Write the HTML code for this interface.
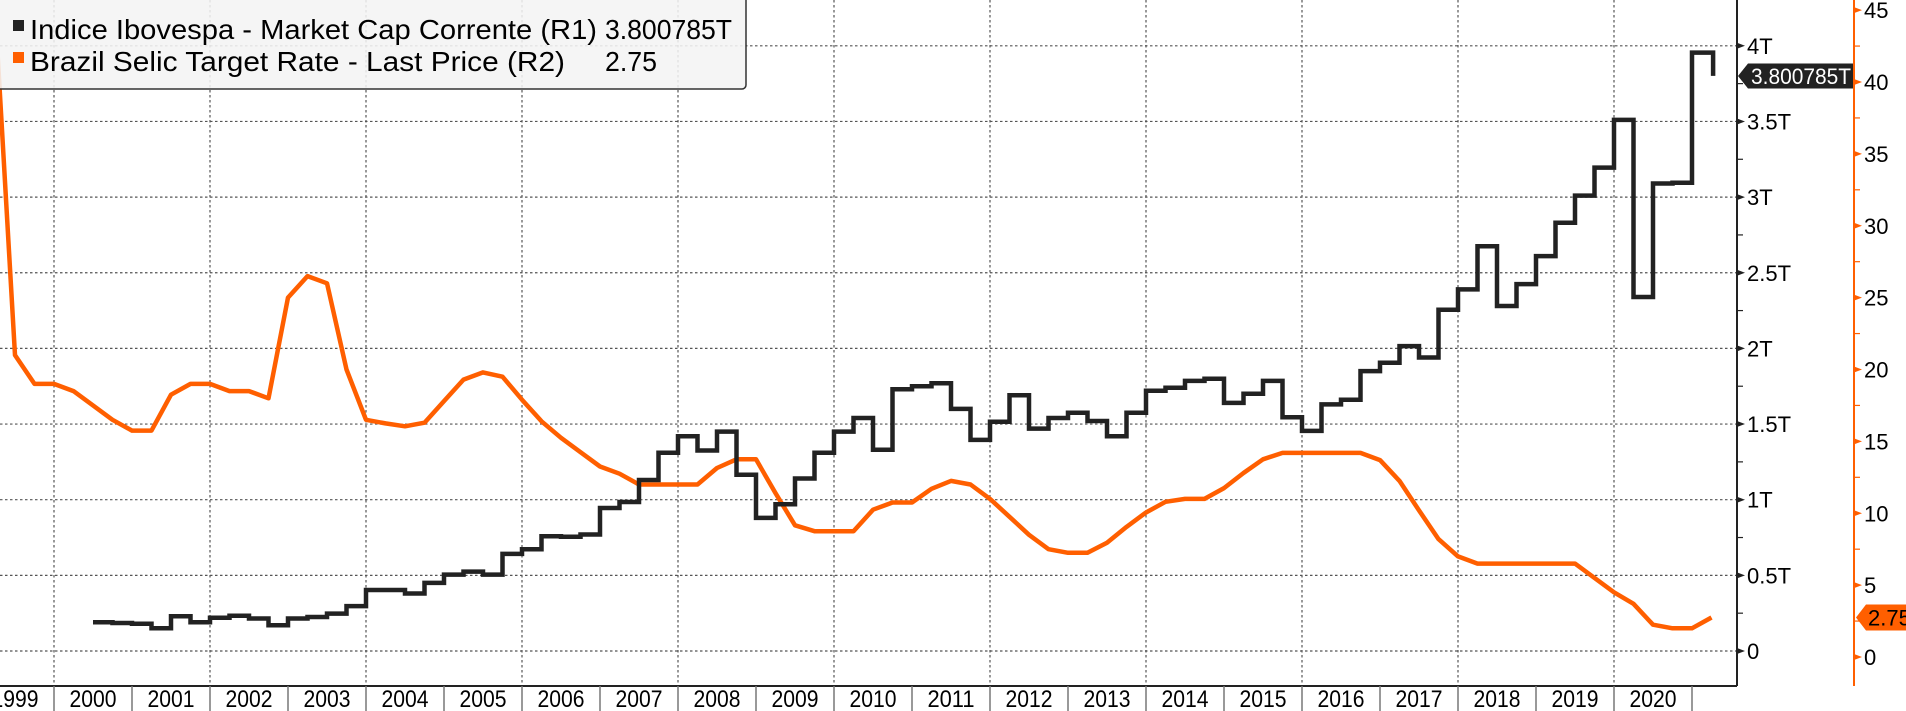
<!DOCTYPE html>
<html><head><meta charset="utf-8"><style>
html,body{margin:0;padding:0;background:#fff;}
svg{display:block;font-family:"Liberation Sans",sans-serif;}
</style></head><body>
<svg id="chart" width="1906" height="711" viewBox="0 0 1906 711" xmlns="http://www.w3.org/2000/svg">
<g id="grid"></g>
<g id="series"></g>
<g id="axes"></g>
<g id="legend">
  <rect x="-4" y="-4" width="750" height="93" rx="4" fill="rgba(244,244,244,0.88)" stroke="#333" stroke-width="1.5"/>
  <rect x="13" y="20" width="11" height="11" fill="#222"/>
  <text x="30" y="39" font-size="28" textLength="567" lengthAdjust="spacingAndGlyphs" fill="#000">Indice Ibovespa - Market Cap Corrente (R1)</text>
  <text x="605" y="39" font-size="28" textLength="127" lengthAdjust="spacingAndGlyphs" fill="#000">3.800785T</text>
  <rect x="13" y="52" width="11" height="11" fill="#ff5f00"/>
  <text x="30" y="71" font-size="28" textLength="535" lengthAdjust="spacingAndGlyphs" fill="#000">Brazil Selic Target Rate - Last Price (R2)</text>
  <text x="605" y="71" font-size="28" textLength="52" lengthAdjust="spacingAndGlyphs" fill="#000">2.75</text>
</g>
</svg>
<script>
// Ibovespa market cap (trillions), quarterly steps starting 2000.5
const iboStart = 2000.5;
const iboValues = [0.19,0.185,0.18,0.15,0.23,0.19,0.22,0.233,0.215,0.17,0.215,0.225,0.247,0.297,0.403,0.403,0.38,0.45,0.505,0.525,0.505,0.642,0.673,0.759,0.755,0.77,0.945,0.985,1.13,1.31,1.42,1.325,1.45,1.165,0.88,
0.97,1.14,1.31,1.45,1.54,1.33,1.73,1.75,1.77,1.60,1.395,1.515,1.69,1.47,1.54,1.575,1.52,1.42,1.575,1.72,1.74,1.785,1.80,1.64,1.70,1.785,
1.545,1.455,1.63,1.66,1.85,1.905,2.015,1.94,2.255,2.39,2.675,2.28,2.425,2.61,2.83,3.01,3.195,3.51,2.34,3.09,3.095,3.955];
const iboLast = 3.800785;
const iboEnd = 2021.27;
// Selic rate (%), quarterly
const selicStart = 1999.25;
const selicValues = [44.5,21.0,19.0,19.0,18.5,17.5,16.5,15.75,15.75,18.25,19.0,19.0,18.5,18.5,18.0,25.0,26.5,26.0,20.0,16.5,16.25,16.05,16.3,17.8,19.3,19.8,19.5,17.9,16.4,15.25,14.25,13.25,12.75,12.0,12.0,12.0,12.0,13.15,13.75,13.75,11.4,9.16,8.75,8.75,8.75,10.25,10.75,10.75,11.7,12.25,12.0,11.0,9.75,8.5,7.5,7.25,7.25,7.95,9.05,10.05,10.8,11.0,11.0,11.75,12.8,13.75,14.2,14.2,14.2,14.2,14.2,13.7,12.25,10.2,8.2,7.0,6.5,6.5,6.5,6.5,6.5,6.5,5.5,4.5,3.7,2.25,2.0,2.0,2.75];
const yearLabels = [1999,2000,2001,2002,2003,2004,2005,2006,2007,2008,2009,2010,2011,2012,2013,2014,2015,2016,2017,2018,2019,2020];
const r1Ticks = [0,0.5,1,1.5,2,2.5,3,3.5,4];
const r1Labels = ["0","0.5T","1T","1.5T","2T","2.5T","3T","3.5T","4T"];
const r2Ticks = [0,5,10,15,20,25,30,35,40,45];

const NS="http://www.w3.org/2000/svg";
const X0=54, PXY=78, PLOT_R=1737, AX_Y=686, R2X=1854;
const xs = t => X0 + (t-2000)*PXY;
const y1 = v => 651 - v*151.3;
const y2 = v => 657 - v*14.375;
function mk(tag, attrs, parent){const e=document.createElementNS(NS,tag);for(const k in attrs)e.setAttribute(k,attrs[k]);parent.appendChild(e);return e;}
const grid=document.getElementById('grid'), series=document.getElementById('series'), axes=document.getElementById('axes');

// horizontal gridlines
r1Ticks.forEach(v=>{
  const l=mk('line',{x1:0,x2:PLOT_R,y1:y1(v),y2:y1(v),stroke:'#555','stroke-width':1.2,'stroke-dasharray':'2.5,2.5'},grid);
  
  
});
// vertical gridlines (even years)
for(let yr=2000; yr<=2020; yr+=2){
  const l=mk('line',{x1:xs(yr),x2:xs(yr),y1:0,y2:AX_Y,stroke:'#555','stroke-width':1.2,'stroke-dasharray':'2.5,2.5'},grid);
  
  
}

// selic line
let d='';
selicValues.forEach((v,i)=>{const t=selicStart+i*0.25; d+=(i?'L':'M')+xs(t).toFixed(1)+','+y2(v).toFixed(1);});
const sp=mk('path',{d:d,fill:'none',stroke:'#ff5f00','stroke-width':4.5,'stroke-linejoin':'round'},series);



// ibovespa step line
d='';
iboValues.forEach((v,i)=>{
  const t0=iboStart+i*0.25, t1=(i===iboValues.length-1)?iboEnd:iboStart+(i+1)*0.25;
  d+=(i?'L':'M')+xs(t0).toFixed(1)+','+y1(v).toFixed(1)+'L'+xs(t1).toFixed(1)+','+y1(v).toFixed(1);
});
d+='L'+xs(iboEnd).toFixed(1)+','+y1(iboLast).toFixed(1);
const bp=mk('path',{d:d,fill:'none',stroke:'#222','stroke-width':4.5,'stroke-linejoin':'miter'},series);



// x axis
const xa=mk('line',{x1:0,x2:PLOT_R,y1:AX_Y,y2:AX_Y,stroke:'#222','stroke-width':2},axes);


for(let yr=2000; yr<=2021; yr++){
  const s=mk('line',{x1:xs(yr),x2:xs(yr),y1:AX_Y,y2:711,stroke:'#777','stroke-width':1.5},axes);
  
  
}
yearLabels.forEach(yr=>{
  const t=mk('text',{x:xs(yr+0.5),y:707,'font-size':24,'text-anchor':'middle',textLength:47,lengthAdjust:'spacingAndGlyphs',fill:'#000'},axes);
  t.textContent=String(yr);
  
  
});

// R1 axis
const r1=mk('line',{x1:PLOT_R,x2:PLOT_R,y1:0,y2:AX_Y,stroke:'#222','stroke-width':2},axes);


r1Ticks.forEach((v,i)=>{
  const y=y1(v);
  const p=mk('path',{d:`M${PLOT_R},${y-3}L${PLOT_R+8},${y}L${PLOT_R},${y+3}Z`,fill:'#222'},axes);
  
  
  const t=mk('text',{x:PLOT_R+10,y:y+8,'font-size':22,fill:'#000'},axes);
  t.textContent=r1Labels[i];
  
  
  if(i<r1Ticks.length-1){
    const ym=y1(v+0.25);
    const m=mk('line',{x1:PLOT_R,x2:PLOT_R+6,y1:ym,y2:ym,stroke:'#222','stroke-width':1.2},axes);
    
    
  }
});
// R2 axis
const r2=mk('line',{x1:R2X,x2:R2X,y1:0,y2:AX_Y,stroke:'#ff5f00','stroke-width':2},axes);


r2Ticks.forEach((v,i)=>{
  const y=y2(v);
  const p=mk('path',{d:`M${R2X},${y-3}L${R2X+8},${y}L${R2X},${y+3}Z`,fill:'#ff5f00'},axes);
  
  
  const t=mk('text',{x:R2X+10,y:y+8,'font-size':22,fill:'#000'},axes);
  t.textContent=String(v);
  
  
  if(i<r2Ticks.length-1){
    const ym=y2(v+2.5);
    const m=mk('line',{x1:R2X,x2:R2X+6,y1:ym,y2:ym,stroke:'#ff5f00','stroke-width':1.2},axes);
    
    
  }
});

// last value tags
const by=y1(iboLast);
const bt=mk('path',{d:`M${PLOT_R+1},${by}L${PLOT_R+11},${by-12.5}L${R2X-1},${by-12.5}L${R2X-1},${by+12.5}L${PLOT_R+11},${by+12.5}Z`,fill:'#222'},axes);


const btt=mk('text',{x:PLOT_R+14,y:by+8,'font-size':22,fill:'#fff',textLength:100,lengthAdjust:'spacingAndGlyphs'},axes);
btt.textContent='3.800785T';


const sv=selicValues[selicValues.length-1], sy=y2(sv);
const st=mk('path',{d:`M${R2X+2},${sy}L${R2X+12},${sy-13}L1910,${sy-13}L1910,${sy+13}L${R2X+12},${sy+13}Z`,fill:'#ff5f00'},axes);


const stt=mk('text',{x:R2X+14,y:sy+8,'font-size':22,fill:'#000'},axes);
stt.textContent='2.75';



// bring legend to front
document.getElementById('chart').appendChild(document.getElementById('legend'));
</script>
</body></html>
